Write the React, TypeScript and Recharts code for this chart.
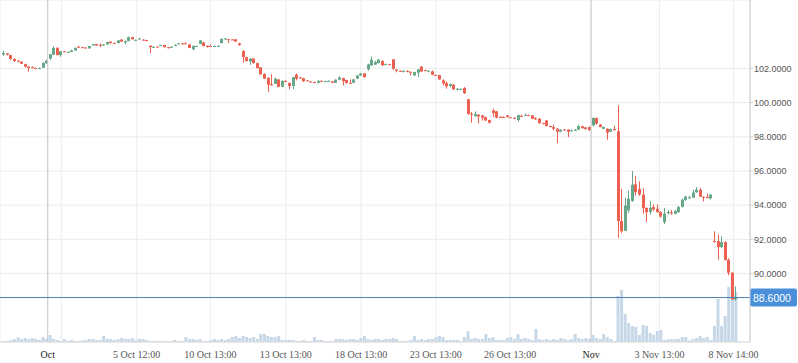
import React from 'react';
import { ComposedChart, Bar, XAxis, YAxis, CartesianGrid, ReferenceLine } from 'recharts';

// OHLC per candle (oldest first)
const OPEN = [
  102.82, 102.88, 102.78, 102.55, 102.45, 102.39, 102.25, 102.10, 102.08, 102.02,
  101.99, 102.04, 102.30, 102.58, 102.80, 103.21, 102.78, 103.00, 102.93, 102.97,
  103.05, 103.27, 103.24, 103.22, 103.17, 103.35, 103.42, 103.39, 103.37, 103.40,
  103.56, 103.49, 103.48, 103.68, 103.52, 103.60, 103.83, 103.65, 103.70, 103.68,
  103.66, 103.33, 103.24, 103.27, 103.33, 103.37, 103.24, 103.23, 103.33, 103.42,
  103.46, 103.47, 103.40, 103.13, 103.29, 103.44, 103.52, 103.32, 103.31, 103.29,
  103.30, 103.48, 103.72, 103.71, 103.69, 103.70, 103.46, 103.01, 102.66, 102.41,
  102.57, 102.31, 102.06, 101.67, 101.45, 101.06, 101.10, 101.35, 100.92, 101.27,
  101.15, 100.97, 101.63, 101.47, 101.43, 101.30, 101.24, 101.20, 101.16, 101.27,
  101.23, 101.25, 101.24, 101.16, 101.34, 101.43, 101.32, 101.16, 101.16, 101.40,
  101.59, 101.71, 101.94, 102.18, 102.23, 102.31, 102.43, 102.22, 102.25, 102.53,
  101.93, 101.86, 101.83, 101.86, 101.80, 101.59, 101.75, 102.10, 101.90, 101.83,
  101.82, 101.62, 101.61, 101.30, 101.14, 100.97, 101.05, 100.78, 100.78, 100.85,
  100.19, 99.35, 99.21, 99.29, 99.25, 99.15, 98.98, 99.54, 99.49, 99.17,
  99.16, 99.25, 99.14, 99.12, 98.98, 99.22, 99.25, 99.27, 99.25, 99.08,
  99.06, 98.80, 98.96, 98.63, 98.57, 98.47, 98.30, 98.43, 98.42, 98.35,
  98.37, 98.42, 98.62, 98.55, 98.57, 98.67, 99.10, 98.72, 98.47, 98.47,
  98.30, 98.45, 98.32, 93.07, 92.51, 93.70, 94.25, 95.22, 94.94, 94.62,
  93.84, 93.60, 93.89, 93.79, 93.60, 93.02, 93.53, 93.57, 93.50, 93.59,
  93.90, 94.30, 94.40, 94.44, 94.76, 94.90, 94.49, 94.48, 94.40, 91.90,
  91.90, 91.55, 91.84, 90.81, 90.05, 88.50,
];

const HIGH = [
  103.03, 102.90, 102.80, 102.60, 102.47, 102.42, 102.28, 102.12, 102.12, 102.05,
  102.05, 102.35, 102.50, 102.85, 103.30, 103.22, 103.02, 103.02, 103.00, 103.08,
  103.22, 103.32, 103.26, 103.23, 103.32, 103.43, 103.43, 103.46, 103.42, 103.56,
  103.60, 103.50, 103.65, 103.72, 103.63, 103.86, 103.85, 103.69, 103.78, 103.70,
  103.67, 103.35, 103.30, 103.28, 103.38, 103.39, 103.25, 103.30, 103.40, 103.48,
  103.48, 103.52, 103.42, 103.33, 103.33, 103.66, 103.55, 103.34, 103.40, 103.33,
  103.35, 103.75, 103.78, 103.72, 103.70, 103.72, 103.50, 103.07, 102.68, 102.60,
  102.60, 102.33, 102.08, 101.72, 101.48, 101.66, 101.45, 101.38, 101.30, 101.31,
  101.17, 101.50, 101.70, 101.50, 101.45, 101.32, 101.26, 101.22, 101.32, 101.29,
  101.28, 101.30, 101.26, 101.36, 101.54, 101.46, 101.34, 101.36, 101.38, 101.61,
  101.74, 101.73, 102.27, 102.70, 102.45, 102.56, 102.47, 102.29, 102.27, 102.55,
  101.96, 101.88, 101.89, 101.88, 101.82, 101.80, 101.96, 102.14, 101.92, 101.88,
  101.88, 101.64, 101.63, 101.36, 101.24, 101.12, 101.07, 100.85, 100.83, 100.91,
  100.22, 99.45, 99.48, 99.32, 99.28, 99.18, 99.00, 99.64, 99.52, 99.20,
  99.19, 99.27, 99.16, 99.14, 99.29, 99.30, 99.35, 99.29, 99.27, 99.15,
  99.08, 98.82, 98.98, 98.65, 98.71, 98.50, 98.45, 98.45, 98.44, 98.43,
  98.45, 98.72, 98.64, 98.57, 98.60, 99.12, 99.12, 98.74, 98.60, 98.50,
  98.48, 98.65, 99.84, 94.96, 94.44, 94.86, 96.00, 95.70, 95.39, 95.00,
  93.88, 94.27, 94.05, 94.05, 93.65, 93.85, 93.72, 93.72, 93.70, 93.95,
  94.40, 94.56, 94.55, 94.90, 95.06, 95.00, 94.52, 94.68, 94.64, 92.47,
  92.29, 92.18, 91.90, 90.90, 90.10, 89.25,
];

const LOW = [
  102.74, 102.76, 102.50, 102.38, 102.36, 102.25, 102.05, 101.80, 102.00, 101.96,
  101.98, 102.02, 102.28, 102.50, 102.78, 102.76, 102.68, 102.97, 102.90, 102.95,
  103.03, 103.20, 103.20, 103.19, 103.16, 103.34, 103.32, 103.24, 103.35, 103.38,
  103.46, 103.46, 103.47, 103.55, 103.40, 103.58, 103.68, 103.64, 103.69, 103.65,
  103.58, 102.88, 103.20, 103.24, 103.32, 103.22, 103.17, 103.20, 103.30, 103.40,
  103.42, 103.42, 103.18, 103.05, 103.27, 103.42, 103.28, 103.22, 103.28, 103.27,
  103.28, 103.46, 103.70, 103.48, 103.66, 103.55, 103.33, 102.33, 102.40, 102.21,
  102.28, 101.98, 101.62, 101.37, 100.62, 101.00, 101.08, 100.90, 100.90, 101.20,
  100.78, 100.78, 101.30, 101.40, 101.22, 101.26, 101.18, 101.14, 101.12, 101.23,
  101.21, 101.23, 101.14, 101.14, 101.32, 101.00, 101.12, 101.10, 101.14, 101.38,
  101.57, 101.47, 101.86, 102.15, 102.20, 102.29, 102.15, 102.19, 102.20, 101.90,
  101.77, 101.82, 101.76, 101.77, 101.59, 101.57, 101.49, 101.80, 101.84, 101.81,
  101.60, 101.57, 101.33, 101.00, 100.81, 100.89, 100.75, 100.71, 100.76, 100.50,
  99.30, 98.82, 99.18, 98.80, 98.95, 98.92, 98.78, 99.15, 99.08, 99.10,
  99.12, 99.12, 99.10, 99.04, 98.88, 99.17, 99.23, 99.22, 99.03, 98.98,
  98.76, 98.74, 98.60, 98.55, 98.37, 97.63, 98.27, 98.38, 97.98, 98.32,
  98.35, 98.40, 98.48, 98.43, 98.35, 98.60, 98.72, 98.55, 98.44, 97.83,
  98.28, 98.36, 92.10, 92.37, 92.48, 93.55, 94.20, 94.57, 94.55, 93.50,
  93.01, 93.45, 93.67, 93.55, 93.28, 92.90, 93.46, 93.45, 93.46, 93.56,
  93.87, 94.26, 94.36, 94.42, 94.72, 94.48, 94.22, 94.40, 94.33, 91.82,
  90.81, 91.50, 90.75, 89.90, 88.45, 88.42,
];

const CLOSE = [
  102.90, 102.80, 102.55, 102.43, 102.40, 102.27, 102.10, 102.02, 102.05, 101.98,
  102.02, 102.33, 102.45, 102.82, 103.20, 102.78, 103.00, 102.98, 102.97, 103.06,
  103.20, 103.22, 103.22, 103.20, 103.31, 103.42, 103.34, 103.37, 103.39, 103.54,
  103.48, 103.47, 103.64, 103.57, 103.60, 103.83, 103.70, 103.67, 103.75, 103.66,
  103.60, 103.25, 103.26, 103.25, 103.37, 103.24, 103.18, 103.26, 103.37, 103.46,
  103.43, 103.43, 103.20, 103.32, 103.31, 103.64, 103.31, 103.25, 103.29, 103.31,
  103.32, 103.73, 103.75, 103.69, 103.67, 103.57, 103.36, 102.66, 102.43, 102.57,
  102.31, 102.02, 101.65, 101.40, 101.04, 101.02, 101.40, 100.92, 101.27, 101.24,
  100.97, 101.49, 101.40, 101.43, 101.24, 101.28, 101.20, 101.16, 101.26, 101.25,
  101.25, 101.27, 101.16, 101.34, 101.47, 101.26, 101.14, 101.12, 101.36, 101.59,
  101.70, 101.49, 102.23, 102.51, 102.37, 102.51, 102.18, 102.25, 102.22, 101.98,
  101.86, 101.84, 101.86, 101.79, 101.77, 101.79, 101.94, 101.82, 101.86, 101.86,
  101.63, 101.59, 101.36, 101.12, 100.95, 101.08, 100.77, 100.81, 100.80, 100.55,
  99.33, 99.31, 99.33, 99.19, 99.12, 98.96, 98.82, 99.39, 99.12, 99.14,
  99.14, 99.15, 99.12, 99.06, 99.27, 99.19, 99.29, 99.24, 99.06, 99.04,
  98.80, 98.76, 98.63, 98.57, 98.47, 98.30, 98.41, 98.40, 98.30, 98.38,
  98.40, 98.62, 98.50, 98.45, 98.38, 99.10, 98.77, 98.57, 98.57, 98.24,
  98.45, 98.41, 93.07, 92.47, 93.98, 94.38, 95.20, 94.76, 94.62, 93.83,
  93.59, 93.85, 93.75, 93.60, 93.33, 93.51, 93.60, 93.53, 93.67, 93.89,
  94.32, 94.50, 94.46, 94.74, 94.92, 94.50, 94.46, 94.44, 94.62, 91.86,
  91.55, 91.84, 90.80, 90.05, 88.50, 88.60,
];

// traded volume per candle (thousands)
const VOLUME = [
  1, 1, 2, 3, 5, 3, 4, 3, 4, 3,
  2, 5, 3, 7, 3, 2, 1, 3, 1, 2,
  1, 1, 1.5, 2, 3, 3, 2, 2, 6, 3,
  3, 2, 3, 4, 3, 3, 4, 2, 3, 3,
  2, 1, 1, 1, 1, 1, 0.5, 1, 2, 1,
  1, 5, 3, 3, 2, 3, 1, 1, 2, 3,
  2, 3, 2, 3, 5, 6, 4, 6, 5, 4,
  5, 3, 8, 8, 6, 5, 5, 6, 2, 2,
  2, 2, 1, 1, 2, 1, 1, 5, 2, 2,
  1, 1, 1, 3, 3, 3, 2, 3, 3, 2,
  4, 6, 3, 2, 3, 3, 2, 3, 3, 4,
  3, 1, 1, 1, 2, 6, 2, 3, 2, 3,
  3, 5, 6, 5, 2, 2, 2, 2, 1, 5,
  11, 3, 4, 3, 3, 8, 4, 5, 2, 2,
  2, 4, 5, 3, 8, 3, 4, 3, 2, 13,
  3, 2, 3, 2, 3, 2, 4, 3, 2, 3,
  8, 4, 3, 4, 3, 7, 4, 3, 8, 5,
  3, 1, 46, 52, 28, 19, 16, 15, 7, 17,
  16, 9, 7, 11, 12, 2, 3, 3, 3, 3,
  5, 5, 1.5, 3, 4, 6, 4, 5, 2, 16,
  43, 16, 26, 55, 69, 50,
];

// time axis: tick positions (in candle index) and their labels
const TIME_TICKS = [12.24, 16.05, 37.16, 57.77, 78.89, 99.97, 120.89, 141.7, 164.38, 183.51, 204.23];
const TIME_LABELS = ['Oct', '', '5 Oct 12:00', '10 Oct 13:00', '13 Oct 13:00', '18 Oct 13:00', '23 Oct 13:00', '26 Oct 13:00', 'Nov', '3 Nov 13:00', '8 Nov 14:00'];
const MONTH_STARTS = [12.24, 164.38];
const PRICE_TICKS = [90, 92, 94, 96, 98, 100, 102];
const LAST_PRICE = 88.6;

const UP = '#66a887';
const DOWN = '#ec6151';

const data = OPEN.map((o, i) => ({
  i,
  open: o,
  high: HIGH[i],
  low: LOW[i],
  close: CLOSE[i],
  volume: VOLUME[i],
  range: [LOW[i], HIGH[i]],
}));

const Candle = (props: any) => {
  const { x, y, width, height, payload } = props;
  if (x == null || y == null) return null;
  const { open, close, high, low } = payload;
  const top = Math.min(y, y + height);
  const h = Math.abs(height);
  const k = h / (high - low);
  const yOf = (v: number) => top + (high - v) * k;
  const cx = Math.round(x + width / 2 - 0.5) + 0.5;
  const color = close >= open ? UP : DOWN;
  const bTop = yOf(Math.max(open, close));
  const bH = Math.max(1, yOf(Math.min(open, close)) - bTop);
  return (
    <g>
      <line x1={cx} x2={cx} y1={top} y2={top + h} stroke={color} strokeWidth={1} />
      <rect x={cx - 1.5} y={bTop} width={3} height={bH} fill={color} />
    </g>
  );
};

const TimeTick = (props: any) => {
  const { x, y, payload } = props;
  let idx = 0;
  TIME_TICKS.forEach((t, k) => {
    if (Math.abs(t - payload.value) < Math.abs(TIME_TICKS[idx] - payload.value)) idx = k;
  });
  const label = TIME_LABELS[idx];
  const major = label === 'Oct' || label === 'Nov';
  return (
    <text x={x} y={y + 14} textAnchor="middle" fontFamily="'Liberation Serif', serif" fontSize={10} fill={major ? '#222' : '#555'}>
      {label}
    </text>
  );
};

const LastPriceLabel = (props: any) => {
  const vb = props.viewBox || {};
  const x0 = vb.x + vb.width;
  const yc = vb.y;
  return (
    <g>
      <rect x={x0} y={yc - 9} width={47} height={18} rx={2} fill="#4a8fd9" />
      <text x={x0 + 3} y={yc + 4} fontFamily="'Liberation Sans', Arial, sans-serif" fontSize={10.5} fill="#fff">
        {LAST_PRICE.toFixed(4)}
      </text>
    </g>
  );
};

export default function App() {
  return (
    <div style={{ position: 'absolute', left: 0, top: 0, width: 798, height: 363, background: '#fff' }}>
      <ComposedChart width={798} height={363} data={data} margin={{ top: 0, right: 0, bottom: 0, left: 0 }}>
        <CartesianGrid stroke="#ececec" />
        <XAxis
          dataKey="i"
          type="number"
          domain={[-1.12, 208.88]}
          allowDataOverflow
          ticks={TIME_TICKS}
          tick={<TimeTick />}
          tickLine={false}
          tickSize={0}
          axisLine={{ stroke: '#dddddd' }}
          height={21}
          interval={0}
        />
        <XAxis xAxisId="vx" dataKey="i" type="number" domain={[-1.12, 208.88]} allowDataOverflow hide />
        <YAxis
          orientation="right"
          domain={[86, 106]}
          allowDataOverflow
          ticks={PRICE_TICKS}
          tickFormatter={(v: number) => v.toFixed(4)}
          tick={{ fill: '#555', fontSize: 9, fontFamily: "'Liberation Sans', Arial, sans-serif" }}
          tickSize={3}
          tickMargin={1}
          tickLine={{ stroke: '#cccccc' }}
          axisLine={{ stroke: '#cccccc' }}
          width={48}
          interval={0}
        />
        <YAxis yAxisId="vol" domain={[0, 342]} hide />
        {MONTH_STARTS.map((m) => (
          <ReferenceLine key={m} x={m} stroke="#c8c8c8" />
        ))}
        <Bar
          xAxisId="vx"
          yAxisId="vol"
          dataKey="volume"
          fill="#c6d7e8"
          barSize={3}
          isAnimationActive={false}
        />
        <ReferenceLine y={LAST_PRICE} stroke="#4f81b5" label={(p: any) => <LastPriceLabel {...p} />} />
        <Bar dataKey="range" barSize={3} shape={<Candle />} isAnimationActive={false} />
      </ComposedChart>
    </div>
  );
}
